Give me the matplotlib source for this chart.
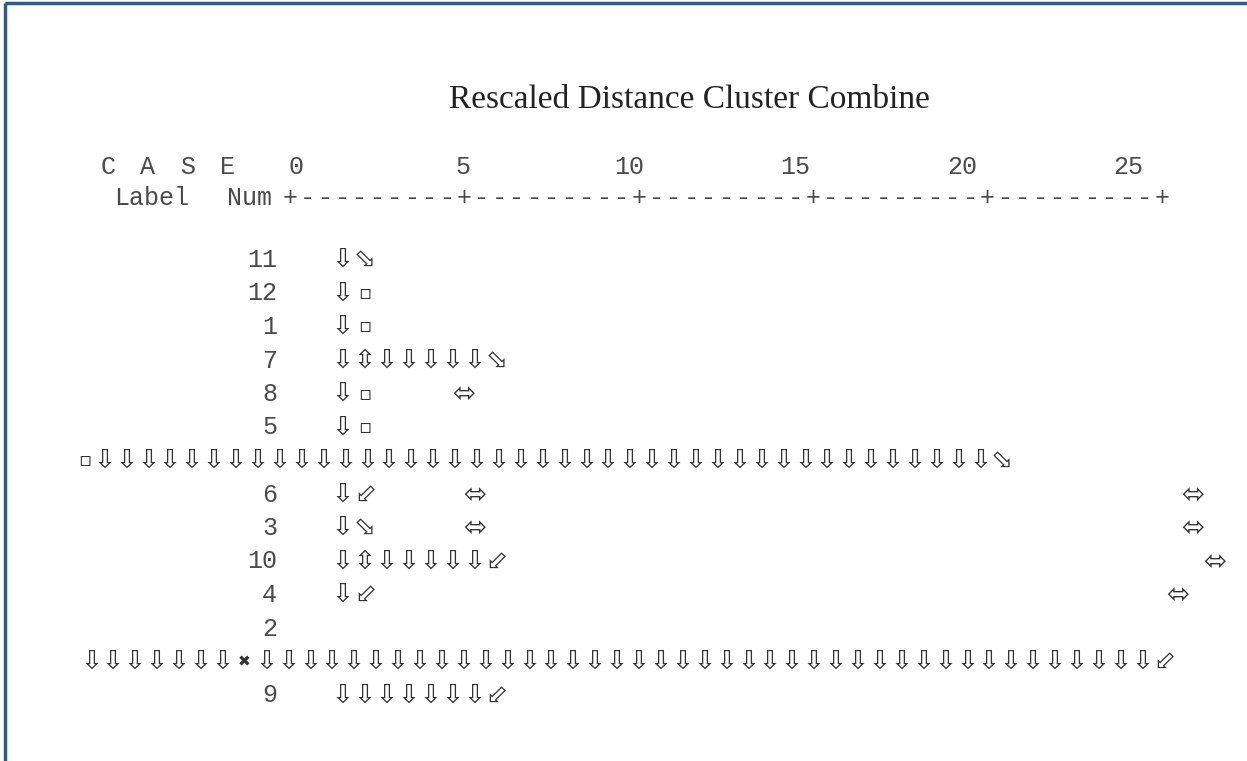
import matplotlib.pyplot as plt

# chart content
title = "Rescaled Distance Cluster Combine"
scale_ticks = [0, 5, 10, 15, 20, 25]
header_top = "CASE"
header_label = "Label"
header_num = "Num"
ruler = "+---------+---------+---------+---------+---------+"

case_labels = ["11", "12", "1", "7", "8", "5", "", "6", "3", "10", "4", "2", "", "9"]

# glyph runs for each row: (start column, glyphs)
tree_rows = [
    [(0, "⇩⬂")],
    [(0, "⇩▫")],
    [(0, "⇩▫")],
    [(0, "⇩⇳⇩⇩⇩⇩⇩⬂")],
    [(0, "⇩▫"), (5.5, "⬄")],
    [(0, "⇩▫")],
    [(-11.8, "▫"), (-10.9, "⇩" * 41 + "⬂")],
    [(0, "⇩⬃"), (6, "⬄"), (38.8, "⬄")],
    [(0, "⇩⬂"), (6, "⬄"), (38.8, "⬄")],
    [(0, "⇩⇳⇩⇩⇩⇩⇩⬃"), (39.8, "⬄")],
    [(0, "⇩⬃"), (38.1, "⬄")],
    [],
    [(-11.5, "⇩" * 7 + "✖" + "⇩" * 41 + "⬃")],
    [(0, "⇩" * 7 + "⬃")],
]

W, H = 1247, 761
mono = "Liberation Mono"
ink = "#4a4a4a"

fig = plt.figure(figsize=(W / 100, H / 100), dpi=100)
ax = fig.add_axes([0, 0, 1, 1])
ax.set_xlim(0, W)
ax.set_ylim(H, 0)
ax.axis("off")

# frame (top and left edges visible)
ax.plot([5, W], [3, 3], color="#2b5b8c", lw=2.5, solid_capstyle="butt")
ax.plot([5, 5], [3, H], color="#2b5b8c", lw=2.5, solid_capstyle="butt")

ax.text(689, 100, title, family="Liberation Serif", fontsize=24,
        ha="center", va="center", color="#222222")

# header
for i, ch in enumerate(header_top):
    ax.text(108 + i * 40, 167, ch, family=mono, fontsize=18, ha="center", va="center", color=ink)
ax.text(114, 198, header_label, family=mono, fontsize=18, ha="left", va="center", color=ink)
ax.text(227, 198, header_num, family=mono, fontsize=18, ha="left", va="center", color=ink)

tick_x0, tick_unit = 296, 33.3
for v in scale_ticks:
    ax.text(tick_x0 + v * tick_unit, 167, str(v), family=mono, fontsize=18,
            ha="center", va="center", color=ink)

ruler_x0, ruler_x1 = 290, 1162
pitch = (ruler_x1 - ruler_x0) / (len(ruler) - 1)
for i, ch in enumerate(ruler):
    ax.text(ruler_x0 + i * pitch, 198, ch, family=mono, fontsize=18,
            ha="center", va="center", color=ink)

# rows
row_y0, row_step = 260, 33.5
col_x0, col_step = 343, 21.9
glyph_size = {"▫": 14, "✖": 11, "⬄": 20, "⬂": 19, "⬃": 19}
for r, (lab, runs) in enumerate(zip(case_labels, tree_rows)):
    y = row_y0 + r * row_step
    if lab:
        ax.text(277, y, lab, family=mono, fontsize=18, ha="right", va="center", color=ink)
    for start, glyphs in runs:
        for k, g in enumerate(glyphs):
            ax.text(col_x0 + (start + k) * col_step, y, g, family="DejaVu Sans",
                    fontsize=glyph_size.get(g, 19), ha="center", va="center",
                    color="#333333")

fig.savefig("out.png", dpi=100)
